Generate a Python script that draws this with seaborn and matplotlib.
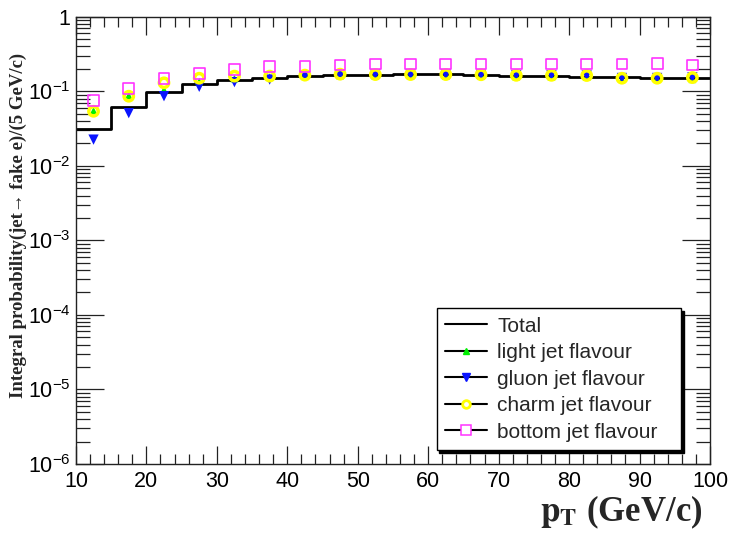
import numpy as np
import pandas as pd
import matplotlib
matplotlib.use("Agg")
import matplotlib.pyplot as plt
import seaborn as sb
from matplotlib.lines import Line2D
from matplotlib.ticker import FixedLocator, FixedFormatter, MultipleLocator, LogLocator, NullFormatter

# bin edges (5 GeV/c bins) and bin centres
edges = [10, 15, 20, 25, 30, 35, 40, 45, 50, 55, 60, 65, 70, 75, 80, 85, 90, 95, 100]
centres = [12.5, 17.5, 22.5, 27.5, 32.5, 37.5, 42.5, 47.5, 52.5, 57.5, 62.5, 67.5, 72.5, 77.5, 82.5, 87.5, 92.5, 97.5]

# values
total = [0.031, 0.061, 0.099, 0.125, 0.141, 0.153, 0.161, 0.165, 0.168, 0.169, 0.169, 0.168, 0.163, 0.162, 0.157, 0.156, 0.150, 0.150]
light = [0.055, 0.088, 0.105, 0.135, 0.148, 0.155, 0.160, 0.163, 0.162, 0.162, 0.161, 0.160, 0.158, 0.157, 0.155, 0.146, 0.146, 0.145]
gluon = [0.0225, 0.051, 0.086, 0.115, 0.133, 0.144, 0.160, 0.165, 0.168, 0.168, 0.168, 0.167, 0.165, 0.165, 0.163, 0.151, 0.151, 0.154]
charm = [0.054, 0.086, 0.130, 0.150, 0.160, 0.160, 0.165, 0.170, 0.168, 0.168, 0.168, 0.167, 0.164, 0.164, 0.163, 0.150, 0.150, 0.153]
bottom = [0.075, 0.110, 0.147, 0.173, 0.196, 0.213, 0.213, 0.225, 0.232, 0.232, 0.232, 0.232, 0.232, 0.232, 0.232, 0.232, 0.239, 0.225]

labels = ['Total', 'light jet flavour', 'gluon jet flavour', 'charm jet flavour', 'bottom jet flavour']

sb.set_style("ticks")
plt.rcParams['font.family'] = ['Liberation Sans', 'DejaVu Sans']
plt.rcParams['mathtext.fontset'] = 'custom'
plt.rcParams['mathtext.rm'] = 'Liberation Sans'
plt.rcParams['mathtext.it'] = 'Liberation Sans:italic'
plt.rcParams['mathtext.bf'] = 'Liberation Sans:bold'

fig = plt.figure(figsize=(7.3, 5.37), dpi=100)
ax = fig.add_axes([0.104, 0.136, 0.8686, 0.8327])

# total as a step histogram
sb.lineplot(x=edges, y=total + [total[-1]], drawstyle='steps-post', color='black', lw=2, ax=ax)

df = pd.DataFrame({'pt': centres, 'light': light, 'gluon': gluon, 'charm': charm, 'bottom': bottom})
sb.scatterplot(data=df, x='pt', y='light', marker='^', color='#00ee00', edgecolor='none', s=30, ax=ax, zorder=3)
sb.scatterplot(data=df, x='pt', y='gluon', marker='v', color='#0a14ff', edgecolor='none', s=55, ax=ax, zorder=4)
sb.scatterplot(data=df, x='pt', y='charm', marker='o', facecolor='none', edgecolor='#ffff00', linewidth=2.5, s=45, ax=ax, zorder=5)
sb.scatterplot(data=df, x='pt', y='bottom', marker='s', facecolor='none', edgecolor='#ff33ff', linewidth=1.2, s=60, ax=ax, zorder=6)

ax.set_yscale('log')
ax.set_xlim(10, 100)
ax.set_ylim(1e-6, 1)
ax.set_xlabel('')
ax.set_ylabel('')

ax.xaxis.set_major_locator(MultipleLocator(10))
ax.xaxis.set_minor_locator(MultipleLocator(2))
ax.yaxis.set_major_locator(FixedLocator([1e-6, 1e-5, 1e-4, 1e-3, 1e-2, 1e-1, 1]))
ax.yaxis.set_major_formatter(FixedFormatter(['$10^{-6}$', '$10^{-5}$', '$10^{-4}$', '$10^{-3}$', '$10^{-2}$', '$10^{-1}$', '1']))
ax.yaxis.set_minor_locator(LogLocator(base=10, subs=np.arange(2, 10), numticks=20))
ax.yaxis.set_minor_formatter(NullFormatter())

ax.tick_params(which='both', direction='in', top=True, right=True, labelsize=15.5, colors='#222222', labelcolor='black')
ax.tick_params(axis='y', which='major', length=20, width=0.9, pad=4)
ax.tick_params(axis='y', which='minor', length=10, width=0.9)
ax.tick_params(axis='x', which='major', length=13, width=0.9, pad=5)
ax.tick_params(axis='x', which='minor', length=7, width=0.9)
for sp in ax.spines.values():
    sp.set_linewidth(1.0)
    sp.set_color('#222222')

# legend like ROOT: black line with marker
handles = [
    Line2D([], [], color='black', lw=1.5),
    Line2D([], [], color='black', lw=1.5, marker='^', markersize=5, markerfacecolor='#00ee00', markeredgecolor='#00ee00'),
    Line2D([], [], color='black', lw=1.5, marker='v', markersize=6, markerfacecolor='#0a14ff', markeredgecolor='#0a14ff'),
    Line2D([], [], color='black', lw=1.5, marker='o', markersize=5.5, markerfacecolor='white', markeredgecolor='#ffff00', markeredgewidth=2),
    Line2D([], [], color='black', lw=1.5, marker='s', markersize=6.5, markerfacecolor='white', markeredgecolor='#ff33ff', markeredgewidth=1.1),
]
leg = ax.legend(handles, labels, loc='lower left', bbox_to_anchor=(0.569, 0.031, 0.385, 0.305), mode='expand',
                fontsize=15, frameon=True, fancybox=False, shadow={'color': 'black', 'alpha': 1}, borderaxespad=0,
                handlelength=2.0, handletextpad=0.5, labelspacing=0.36, borderpad=0.4)
leg.get_frame().set_edgecolor('black')
leg.get_frame().set_linewidth(1.0)

fig.text(0.025, 0.58, 'Integral probability(jet\u2192 fake e)/(5 GeV/c)', rotation=90, ha='center', va='center',
         fontsize=13.5, fontweight='bold', family=['Liberation Serif', 'DejaVu Serif'])
fig.text(0.963, 0.03, r'$\mathbf{p}_{\mathbf{T}}$ (GeV/c)', ha='right', va='baseline',
         fontsize=25, fontweight='bold', family=['Liberation Serif', 'DejaVu Serif'], math_fontfamily='stix')

fig.savefig('out.png', dpi=100, facecolor='white')
